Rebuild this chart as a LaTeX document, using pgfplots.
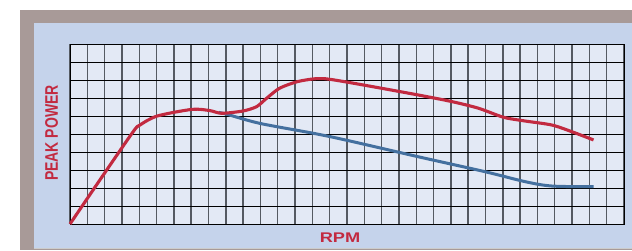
\documentclass[border=0pt]{standalone}
\usepackage{pgfplots}
\pgfplotsset{compat=1.18}
\usepackage{fontspec}
\usepackage{graphicx}
\setmainfont{Liberation Sans}
\definecolor{framec}{HTML}{A89A98}
\definecolor{panelc}{HTML}{C5D3EB}
\definecolor{plotbg}{HTML}{E3E9F5}
\definecolor{redc}{HTML}{C22A40}
\definecolor{bluec}{HTML}{44709F}
\definecolor{gridv}{HTML}{555A62}
\begin{document}
\begin{tikzpicture}[x=1pt,y=1pt]
\useasboundingbox (0,0) rectangle (632,250);
\fill[white] (0,0) rectangle (632,250);
\fill[framec] (20,0) rectangle (632,240);
\fill[panelc] (34,2.5) rectangle (632,227);
\fill[black!20] (34,1.5) rectangle (632,2.5);
\begin{axis}[
  at={(70pt,26pt)}, anchor=south west,
  scale only axis, width=554pt, height=180pt,
  xmin=0, xmax=32, ymin=0, ymax=10,
  xtick={0,...,32}, ytick={0,...,10},
  xticklabels={}, yticklabels={},
  major tick length=0pt,
  grid=major,
  major x grid style={draw=gridv, line width=1.4pt},
  major y grid style={draw=black, line width=0.9pt},
  axis background/.style={fill=plotbg},
  axis line style={black, line width=1pt},
  clip=false,
]
\addplot[bluec, line width=3pt, smooth, tension=0.5] coordinates {
(8.6,6.2) (9.08,6.09) (10.97,5.59) (14.05,5.04) (15.9,4.67) (20.1,3.74)
(24,2.9) (26.3,2.35) (27.83,2.11) (30.24,2.07)
};
\addplot[redc, line width=3.1pt, smooth, tension=0.45] coordinates {
(0,0) (1.8,2.55) (3.65,5.13) (4.04,5.5) (5.04,6.0) (7.06,6.37) (8.08,6.3)
(8.76,6.15) (10,6.28) (10.78,6.52) (11.35,6.98) (12.1,7.54) (13.1,7.9)
(14.05,8.06) (14.75,8.07) (15.9,7.9) (18,7.54) (20.1,7.17) (22.06,6.8)
(23.6,6.43) (25.04,5.93) (26.3,5.72) (27.83,5.5) (28.98,5.13) (30.24,4.67)
};
\end{axis}
\node[rotate=90, text=redc, inner sep=0pt, font=\fontsize{14}{14}\selectfont\bfseries] at (51.6,117) {\scalebox{1}[1.3]{PEAK POWER}};
\node[text=redc, inner sep=0pt, font=\fontsize{14}{14}\selectfont\bfseries] at (340,12.2) {\scalebox{1.3}[1]{RPM}};
\end{tikzpicture}
\end{document}
